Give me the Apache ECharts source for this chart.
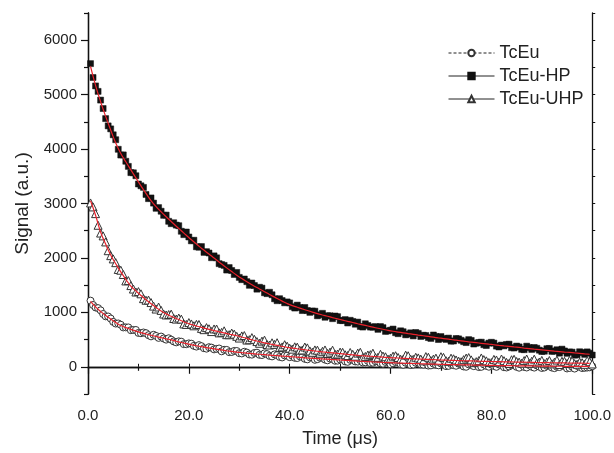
<!DOCTYPE html>
<html><head><meta charset="utf-8">
<script src="https://cdn.jsdelivr.net/npm/echarts@6/dist/echarts.min.js"></script>
<style>html,body{margin:0;padding:0;background:#fff}#c{width:614px;height:453px}</style>
</head><body><div id="c"></div>
<script>
// sample times (µs): two interleaved sets of readings
const timesA = [0.5,1.5,2.5,3.5,4.5,5.5,6.5,7.5,8.5,9.5,10.5,11.5,12.5,13.5,14.5,15.5,16.5,17.5,18.5,19.5,20.5,21.5,22.5,23.5,24.5,25.5,26.5,27.5,28.5,29.5,30.5,31.5,32.5,33.5,34.5,35.5,36.5,37.5,38.5,39.5,40.5,41.5,42.5,43.5,44.5,45.5,46.5,47.5,48.5,49.5,50.5,51.5,52.5,53.5,54.5,55.5,56.5,57.5,58.5,59.5,60.5,61.5,62.5,63.5,64.5,65.5,66.5,67.5,68.5,69.5,70.5,71.5,72.5,73.5,74.5,75.5,76.5,77.5,78.5,79.5,80.5,81.5,82.5,83.5,84.5,85.5,86.5,87.5,88.5,89.5,90.5,91.5,92.5,93.5,94.5,95.5,96.5,97.5,98.5,99.5];
const timesB = [1,2,3,4,5,6,7,8,9,10,11,12,13,14,15,16,17,18,19,20,21,22,23,24,25,26,27,28,29,30,31,32,33,34,35,36,37,38,39,40,41,42,43,44,45,46,47,48,49,50,51,52,53,54,55,56,57,58,59,60,61,62,63,64,65,66,67,68,69,70,71,72,73,74,75,76,77,78,79,80,81,82,83,84,85,86,87,88,89,90,91,92,93,94,95,96,97,98,99,100];

const tceuA = [1215,1090,1037,927,886,794,772,724,672,676,617,618,559,567,555,499,498,449,461,415,424,371,379,333,352,328,284,310,272,290,245,261,223,259,216,233,191,214,172,205,203,161,179,137,171,140,164,119,143,113,137,91,130,95,79,110,75,96,56,97,63,85,36,73,40,77,39,22,59,27,59,17,30,58,6,44,12,-5,43,1,15,43,-8,6,29,-17,-3,31,-15,3,-13,21,-25,-5,14,-22,-33,-3,-19,-10];
const tceuB = [1135,1078,970,924,825,796,723,723,677,622,630,581,588,531,520,524,466,468,416,430,385,398,341,360,320,336,312,269,291,250,276,227,254,220,247,200,228,181,209,177,165,193,146,174,128,167,132,151,111,135,99,128,98,122,82,68,103,64,89,45,87,48,75,32,74,46,73,26,38,61,13,51,19,52,0,38,51,-1,17,41,-1,28,-13,30,-1,38,-13,1,24,-22,17,-14,0,25,-31,3,17,-23,-14,10];

const tceuHPA = [5570,5160,4900,4560,4371,4172,3890,3776,3567,3510,3325,3166,3102,2912,2858,2787,2629,2603,2490,2476,2314,2205,2209,2115,2004,2002,1878,1777,1769,1733,1601,1564,1539,1426,1445,1344,1323,1214,1217,1192,1104,1133,1033,1034,1025,937,982,938,884,921,848,805,833,821,730,759,728,688,719,660,693,608,644,600,567,613,580,537,584,501,519,527,474,513,461,499,418,447,406,435,435,364,384,415,345,365,314,354,354,305,286,337,288,250,291,273,214,276,228,250];
const tceuHPB = [5315,5060,4745,4426,4262,3996,3893,3682,3564,3358,3296,3089,3007,2925,2783,2673,2646,2592,2428,2385,2325,2197,2102,2090,2038,1895,1863,1823,1696,1642,1613,1497,1493,1461,1360,1369,1249,1251,1175,1173,1079,1088,1089,1000,1021,955,910,936,933,850,867,854,782,741,790,729,738,739,650,672,626,661,587,624,630,557,574,521,558,555,503,471,519,487,445,484,433,452,391,450,380,399,410,350,380,320,379,319,340,281,332,283,313,324,247,269,220,262,274,216];

const tceuUHPA = [3010,2814,2457,2294,2042,1913,1774,1577,1492,1374,1341,1223,1180,1061,1036,952,968,876,876,778,787,780,705,720,647,694,632,590,620,560,567,491,536,463,471,410,441,442,365,378,324,361,309,347,266,305,284,244,305,235,266,207,229,251,173,217,250,174,197,141,195,171,136,202,137,163,109,175,141,107,173,100,147,104,131,169,76,113,131,78,136,84,112,60,138,86,114,62,140,88,57,115,84,42,101,119,58,86,45,93];
const tceuUHPB = [2937,2600,2405,2133,1982,1788,1695,1584,1428,1382,1252,1226,1115,1098,969,960,887,896,787,812,753,777,682,698,695,623,661,590,600,528,574,498,504,432,490,400,411,353,406,341,367,305,363,291,310,249,309,269,230,270,221,263,195,267,190,223,167,230,184,158,203,138,214,139,175,141,187,113,159,185,111,158,125,92,160,127,94,162,109,77,125,143,81,129,97,65,143,101,69,117,86,54,123,101,60,108,47,75,114,52];

// red fitted curves (read at timesA)
const fitTcEu = [1200,1100,1017,942,876,814,757,719,687,656,627,603,579,557,535,514,493,469,446,425,404,386,369,353,337,323,309,295,282,270,260,251,243,234,226,218,211,204,197,190,183,176,169,162,156,150,144,139,133,128,122,116,110,105,99,95,90,86,81,77,73,70,66,63,60,57,54,52,49,47,44,42,40,38,36,34,32,30,28,26,25,23,22,21,19,18,17,16,15,13,12,11,10,10,9,8,7,7,6,5];
const fitHP = [5520,5170,4870,4600,4351,4112,3920,3766,3617,3470,3325,3186,3052,2942,2848,2757,2669,2583,2500,2416,2334,2255,2179,2105,2034,1962,1888,1817,1749,1683,1621,1564,1509,1456,1405,1354,1303,1254,1207,1162,1124,1093,1063,1034,1005,977,952,928,904,881,858,835,813,791,770,749,728,708,689,670,653,638,624,610,597,583,570,557,544,531,519,507,494,483,471,459,448,437,426,415,405,394,384,375,365,355,344,334,324,315,306,297,288,280,271,263,254,246,238,230];
const fitUHP = [3050,2784,2477,2254,2052,1893,1744,1607,1482,1394,1311,1233,1160,1091,1026,972,928,886,846,808,777,750,725,700,677,654,632,610,590,570,547,521,496,473,451,430,411,392,375,358,344,331,319,307,296,285,274,264,255,245,236,227,219,211,203,197,190,184,177,171,165,161,156,152,147,143,139,135,131,127,123,120,117,114,111,109,106,103,101,98,96,94,92,90,88,86,84,82,80,78,77,75,74,72,71,69,68,66,65,63];

const seriesNames = ['TcEu','TcEu-HP','TcEu-UHP'];
const yLabelValues = [0,1000,2000,3000,4000,5000,6000];
const yMinorValues = [-500,500,1500,2500,3500,4500,5500,6500];

const merge = (a, b) => {
  const out = [];
  a.forEach((v, i) => { out.push([timesA[i], v]); out.push([timesB[i], b[i]]); });
  return out;
};
const pairs = (vals) => vals.map((v, i) => [timesA[i], v]);
const FONT = '"Liberation Sans", Arial, Helvetica, sans-serif';
const axisLine = {show: true, lineStyle: {color: '#111', width: 1.3}};

const chart = echarts.init(document.getElementById('c'), null, {renderer: 'canvas'});
chart.setOption({
  animation: false,
  backgroundColor: '#fff',
  textStyle: {fontFamily: FONT},
  grid: {left: 88, right: 20, top: 13, bottom: 58, containLabel: false},
  legend: {
    orient: 'vertical', left: 443, top: 38, itemWidth: 46, itemHeight: 8, itemGap: 3,
    textStyle: {fontSize: 18, lineHeight: 20, color: '#222', fontFamily: FONT},
    data: [
      {name: seriesNames[0], lineStyle: {opacity: 1, color: '#222', width: 1, type: [3, 2]}},
      {name: seriesNames[1], lineStyle: {opacity: 1, color: '#222', width: 1, type: 'solid'}},
      {name: seriesNames[2], lineStyle: {opacity: 1, color: '#222', width: 1, type: 'solid'}}
    ]
  },
  xAxis: [
    {type: 'value', position: 'bottom', min: 0, max: 100, interval: 20,
     name: 'Time (μs)', nameLocation: 'middle', nameGap: 36,
     nameTextStyle: {fontSize: 18, color: '#222', fontFamily: FONT},
     axisLine: axisLine, splitLine: {show: false},
     axisTick: {show: true, length: 7, lineStyle: {color: '#111', width: 1.2}},
     minorTick: {show: true, splitNumber: 2, length: 4, lineStyle: {color: '#111', width: 1.2}},
     axisLabel: {fontSize: 15, color: '#222', margin: 14, formatter: v => v.toFixed(1)}},
    {type: 'value', position: 'top', min: 0, max: 100, interval: 10,
     axisLine: axisLine, splitLine: {show: false},
     axisTick: {show: true, length: 3, lineStyle: {color: '#111', width: 1}},
     axisLabel: {show: false}}
  ],
  yAxis: [
    {type: 'value', position: 'left', min: -500, max: 6500,
     name: 'Signal (a.u.)', nameLocation: 'middle', nameGap: 52,
     nameTextStyle: {fontSize: 19, color: '#222', fontFamily: FONT},
     axisLine: axisLine, splitLine: {show: false},
     axisTick: {show: true, length: 7, customValues: yLabelValues, lineStyle: {color: '#111', width: 1.2}},
     axisLabel: {fontSize: 15, color: '#222', margin: 11, customValues: yLabelValues, formatter: v => String(v)}},
    {type: 'value', position: 'left', min: -500, max: 6500,
     axisLine: axisLine, splitLine: {show: false},
     axisTick: {show: true, length: 4, customValues: yMinorValues, lineStyle: {color: '#111', width: 1.2}},
     axisLabel: {show: false}},
    {type: 'value', position: 'right', min: -500, max: 6500,
     axisLine: axisLine, splitLine: {show: false},
     axisTick: {show: true, length: 3, customValues: yMinorValues.concat(yLabelValues), lineStyle: {color: '#111', width: 1}},
     axisLabel: {show: false}}
  ],
  series: [
    {name: seriesNames[0], type: 'line', data: merge(tceuA, tceuB), symbol: 'circle', symbolSize: 7,
     lineStyle: {opacity: 0, width: 0}, itemStyle: {color: '#fff', borderColor: '#333', borderWidth: 1}, z: 2},
    {name: seriesNames[1], type: 'line', data: merge(tceuHPA, tceuHPB), symbol: 'rect', symbolSize: 6,
     lineStyle: {opacity: 0, width: 0}, itemStyle: {color: '#111', borderColor: '#111', borderWidth: 0.5}, z: 2},
    {name: seriesNames[2], type: 'line', data: merge(tceuUHPA, tceuUHPB), symbol: 'triangle', symbolSize: 8,
     lineStyle: {opacity: 0, width: 0}, itemStyle: {color: '#fff', borderColor: '#333', borderWidth: 1}, z: 2},
    {name: 'fit1', type: 'line', data: pairs(fitTcEu), symbol: 'none', smooth: true, lineStyle: {color: '#e8202a', width: 1.2}, z: 5},
    {name: 'fit2', type: 'line', data: pairs(fitHP), symbol: 'none', smooth: true, lineStyle: {color: '#e8202a', width: 1.2}, z: 5},
    {name: 'fit3', type: 'line', data: pairs(fitUHP), symbol: 'none', smooth: true, lineStyle: {color: '#e8202a', width: 1.2}, z: 5}
  ]
});
</script></body></html>
